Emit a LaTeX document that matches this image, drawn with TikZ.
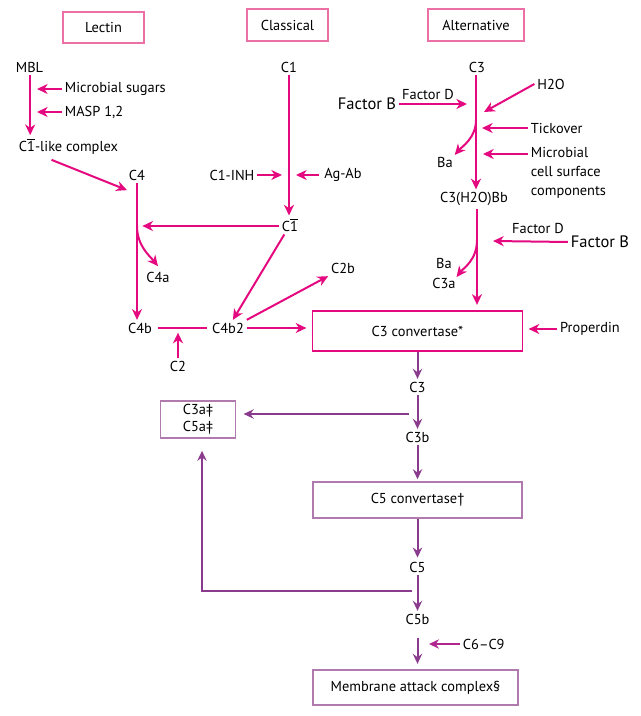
\documentclass[tikz,border=0pt]{standalone}
\usepackage{fontspec}
\setmainfont{PT Sans}
\usetikzlibrary{arrows.meta}
\definecolor{pk}{HTML}{E4097F}
\definecolor{pkbox}{HTML}{EC6FA6}
\definecolor{pu}{HTML}{8B3B8E}
\definecolor{pubox}{HTML}{B07AAE}
\definecolor{mg}{HTML}{B0268F}
\begin{document}
\begin{tikzpicture}[x=0.75pt,y=-0.75pt,
  t/.style={inner sep=2pt, font=\fontsize{10.8}{12}\selectfont},
  big/.style={inner sep=2pt, font=\fontsize{12.4}{14}\selectfont},
  pka/.style={draw=pk, line width=1.5pt, -{Stealth[length=8pt,width=7.5pt,inset=2.5pt]}},
  pkl/.style={draw=pk, line width=1.5pt},
  pua/.style={draw=pu, line width=1.5pt, -{Stealth[length=7.5pt,width=7pt,inset=2.5pt]}},
  mga/.style={draw=mg, line width=1.5pt, -{Stealth[length=7.5pt,width=7pt,inset=2.5pt]}},
  hbox/.style={t, draw=pkbox, line width=1.2pt},
  ubox/.style={t, draw=pubox, line width=1.2pt}
]
\useasboundingbox (0,0) rectangle (640,716);

% headings
\node[hbox, minimum width=60.75pt, minimum height=23.25pt] (lectin) at (103.5,27.5) {Lectin};
\node[hbox, minimum width=60.75pt, minimum height=24pt] (classical) at (287.5,25) {Classical};
\node[hbox, minimum width=72pt, minimum height=24pt] (alternative) at (476,25) {Alternative};

% lectin pathway
\node[t] (mbl) at (29.5,67) {MBL};
\node[t, anchor=west] (msug) at (62,89) {Microbial sugars};
\node[t, anchor=west] (masp) at (62,112) {MASP 1,2};
\node[t, anchor=west] (c1like) at (16,146) {C$\overline{\mbox{1}}$-like complex};
\coordinate (jms) at (37,89);
\coordinate (jmasp) at (37,112);
\draw[pka] ([xshift=0.5pt]mbl.south) -- ([xshift=0.5pt]mbl.south |- c1like.north);
\draw[pka] (msug.west) -- (jms);
\draw[pka] (masp.west) -- (jmasp);

\node[t] (c4) at (137,175) {C4};
\draw[pka] ([shift={(-17,3)}]c1like.south) -- ([shift={(1,7)}]c4.south west);
\node[t] (c4a) at (158,277) {C4a};
\node[t] (c4b) at (140,328) {C4b};
\node[t] (c4b2) at (228,328) {C4b2};
\node[t] (c2) at (178,366) {C2};
\node[t] (c2b) at (343,268) {C2b};

% classical pathway
\node[t] (c1) at (289,67) {C1};
\node[t] (c1bar) at (290,225) {C$\overline{\mbox{1}}$};
\node[t] (c1inh) at (232,175) {C1-INH};
\node[t] (agab) at (343,175) {Ag-Ab};
\coordinate (jinh) at (282,175);
\coordinate (jag) at (296,175);
\draw[pka] (c1.south -| 289,0) -- (c1bar.north -| 289,0);
\draw[pka] (c1inh.east) -- (jinh);
\draw[pka] ([xshift=-2pt]agab.west) -- (jag);

\coordinate (j1) at (137,226);
\draw[pka] (c4.south) -- (c4.south |- c4b.north);
\draw[pka, shorten >=4pt] (c1bar.west |- j1) -- (j1);
\draw[pka] (j1) .. controls +(0,20) and +(-8,-10) .. ([yshift=2pt]c4a.north);
\draw[pka] (c1bar) -- (c4b2);
\draw[pkl, shorten <=2pt, shorten >=2pt] (c4b.east) -- (c4b2.west);
\draw[pka, shorten >=3.5pt] (c2.north) -- (c2.north |- c4b.east);
\draw[pka] (c4b2.north east) -- (c2b.south west);

% alternative pathway
\node[t] (c3top) at (477,67) {C3};
\node[big] (facB) at (367,104) {Factor B};
\node[t] (facD) at (428,94) {Factor D};
\node[t] (h2o) at (551,84) {H2O};
\node[t, anchor=west] (tick) at (528,128) {Tickover};
\node[t, anchor=north west, align=left, font=\fontsize{10.8}{14.3}\selectfont] (micro) at (528,144) {Microbial\\cell surface\\components};
\node[t] (ba) at (445,162) {Ba};
\node[t] (c3h2o) at (474,199) {C3(H2O)Bb};
\coordinate (jfb) at (467,104);
\coordinate (jh2o) at (484,112);
\coordinate (jtick) at (482,128);
\coordinate (jmic) at (483,154);
\coordinate (jba) at (476,120);
\draw[pka] (c3top.south -| 476,0) -- (c3h2o.north -| 476,0);
\draw[pka] (facB.east) -- (jfb);
\draw[pka] (h2o.west) -- (jh2o);
\draw[pka] (tick.west) -- (jtick);
\draw[pka] (micro.west |- jmic) -- (jmic);
\draw[pka] (jba) .. controls +(0,18) and +(7,-8) .. ([shift={(-1,1)}]ba.north east);

\node[t] (facD2) at (538,228) {Factor D};
\node[big] (facB2) at (600,242) {Factor B};
\node[t, align=center, font=\fontsize{10.8}{15}\selectfont] (bac3a) at (444,273) {Ba\\C3a};
\node[t, draw=pk, line width=1.2pt, minimum width=157.5pt, minimum height=30pt] (c3conv) at (417.5,331) {C3 convertase*};
\node[t] (prop) at (590,329) {Properdin};
\coordinate (jfb2) at (493,241);
\coordinate (jba2) at (477,240);
\draw[pka, shorten >=4pt] (c3h2o.south -| 477,0) -- (c3conv.north -| 477,0);
\draw[pka] (facB2.west) -- (jfb2);
\draw[pka] (jba2) .. controls +(0,20) and +(7,-9) .. ([shift={(-2,4)}]bac3a.east);
\draw[pka, shorten >=4pt] (c4b2.east) -- (c4b2.east -| c3conv.west);
\draw[pka, shorten >=4pt] (prop.west) -- (prop.west -| c3conv.east);

% terminal pathway
\node[t] (c3lo) at (417.5,387) {C3};
\node[t] (c3b) at (417.5,437) {C3b};
\node[ubox, align=center, font=\fontsize{10.8}{13}\selectfont, minimum width=56.25pt, minimum height=27.75pt] (c3a5a) at (198,419.5) {C3a‡\\C5a‡};
\node[ubox, minimum width=156.75pt, minimum height=27pt] (c5conv) at (417.5,500) {C5 convertase†};
\node[t] (c5) at (417.5,567) {C5};
\node[t] (c5b) at (417.5,619) {C5b};
\node[t, anchor=west] (c6) at (460,644) {C6–C9};
\node[ubox, minimum width=153.75pt, minimum height=26.25pt] (mac) at (415.5,687.5) {Membrane attack complex§};
\coordinate (j3) at (409,414);
\coordinate (j5) at (412,591);
\coordinate (j6) at (429,644);

\draw[pua] (c3conv.south -| c3lo) -- (c3lo.north);
\draw[pua] (c3lo.south) -- (c3b.north);
\draw[pua, shorten >=5.5pt] (j3) -- (j3 -| c3a5a.east);
\draw[pua, shorten >=1.5pt] (c3b.south) -- (c3b.south |- c5conv.north);
\draw[pua, shorten >=1pt] (c5conv.south -| c5) -- (c5.north);
\draw[pua] (c5.south) -- (c5b.north);
\draw[pua, shorten >=9pt] (j5) -| ([xshift=3pt]c3a5a.south);
\draw[pua, shorten <=8pt, shorten >=4pt] (c5b.south) -- (c5b.south |- mac.north);
\draw[mga] (c6.west) -- (j6);
\end{tikzpicture}
\end{document}
